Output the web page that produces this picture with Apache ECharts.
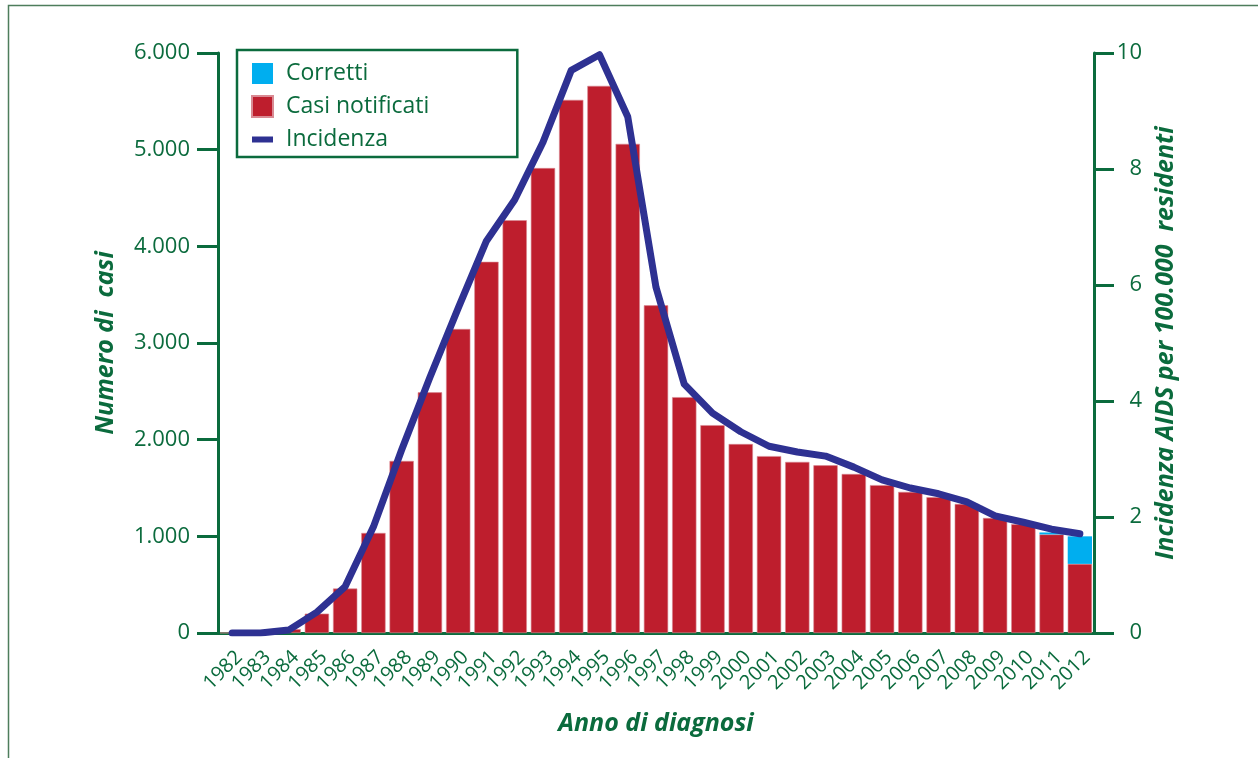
<!DOCTYPE html>
<html>
<head>
<meta charset="utf-8">
<script src="https://cdn.jsdelivr.net/npm/echarts@6/dist/echarts.min.js"></script>
<style>
  html, body { margin: 0; padding: 0; background: #fff; }
  #chart { width: 1258px; height: 758px; }
</style>
</head>
<body>
<div id="chart"></div>
<script>
const anni = ['1982', '1983', '1984', '1985', '1986', '1987', '1988', '1989', '1990', '1991',
  '1992', '1993', '1994', '1995', '1996', '1997', '1998', '1999', '2000', '2001',
  '2002', '2003', '2004', '2005', '2006', '2007', '2008', '2009', '2010', '2011', '2012'];

// casi notificati (asse sinistro)
const casiNotificati = [2, 10, 40, 200, 460, 1035, 1780, 2490, 3145, 3840,
  4270, 4810, 5515, 5660, 5060, 3390, 2440, 2150, 1955, 1830,
  1770, 1735, 1645, 1530, 1460, 1405, 1335, 1190, 1125, 1020, 715];

// correzione per ritardo di notifica
const corretti = [0, 0, 0, 0, 0, 0, 0, 0, 0, 0,
  0, 0, 0, 0, 0, 0, 0, 0, 0, 0,
  0, 0, 0, 0, 0, 0, 0, 0, 0, 20, 285];

// incidenza per 100.000 residenti (asse destro)
const incidenza = [0, 0, 0.05, 0.36, 0.8, 1.83, 3.16, 4.41, 5.6, 6.76,
  7.47, 8.46, 9.7, 9.97, 8.9, 5.96, 4.29, 3.79, 3.47, 3.22,
  3.12, 3.05, 2.86, 2.64, 2.5, 2.4, 2.26, 2.02, 1.91, 1.79, 1.71];

const verde = '#0b6b3d';
const font = '"Open Sans", "Noto Sans", sans-serif';

const chart = echarts.init(document.getElementById('chart'));

chart.setOption({
  animation: false,
  textStyle: { fontFamily: font, color: verde },
  grid: { left: 218, right: 164, top: 53, bottom: 125 },
  graphic: [{
    type: 'rect',
    shape: { x: 8.5, y: 5.5, width: 1300, height: 800 },
    style: { fill: 'none', stroke: '#4e7d5c', lineWidth: 1.5 },
    silent: true
  }],
  legend: {
    left: 237,
    top: 50,
    orient: 'vertical',
    itemGap: 10,
    itemWidth: 21,
    itemHeight: 21,
    padding: [12, 88, 6, 14],
    borderColor: verde,
    borderWidth: 2.5,
    backgroundColor: '#fff',
    textStyle: { fontSize: 23, color: verde, fontFamily: font, padding: [0, 0, 0, 8] },
    data: [
      { name: 'Corretti', icon: 'rect' },
      { name: 'Casi notificati', icon: 'rect' },
      { name: 'Incidenza', icon: 'path://M0,0 L21,0 L21,6 L0,6 Z' }
    ]
  },
  xAxis: {
    type: 'category',
    data: anni,
    name: 'Anno di diagnosi',
    nameLocation: 'middle',
    nameGap: 78,
    nameTextStyle: { fontSize: 25, fontWeight: 'bold', fontStyle: 'italic', color: verde },
    axisLine: { lineStyle: { color: verde, width: 3 } },
    axisTick: { length: 25, lineStyle: { color: verde, width: 2.5 } },
    axisLabel: {
      rotate: 45,
      interval: 0,
      fontSize: 20,
      margin: 14,
      color: verde,
      verticalAlign: 'top'
    }
  },
  yAxis: [
    {
      type: 'value',
      min: 0,
      max: 6000,
      interval: 1000,
      name: 'Numero di  casi',
      nameLocation: 'middle',
      nameRotate: 90,
      nameGap: 100,
      nameTextStyle: { fontSize: 25, fontWeight: 'bold', fontStyle: 'italic', color: verde },
      axisLine: { show: true, lineStyle: { color: verde, width: 3 } },
      axisTick: { show: true, length: 21, lineStyle: { color: verde, width: 3 } },
      axisLabel: {
        fontSize: 22,
        margin: 28,
        color: verde,
        formatter: v => String(v).replace(/\B(?=(\d{3})+(?!\d))/g, '.')
      },
      splitLine: { show: false }
    },
    {
      type: 'value',
      min: 0,
      max: 10,
      interval: 2,
      position: 'right',
      name: 'Incidenza AIDS per 100.000  residenti',
      nameLocation: 'middle',
      nameRotate: 90,
      nameGap: 58,
      nameTextStyle: { fontSize: 25, fontWeight: 'bold', fontStyle: 'italic', color: verde },
      axisLine: { show: true, lineStyle: { color: verde, width: 3 } },
      axisTick: { show: true, length: 20, lineStyle: { color: verde, width: 3 } },
      axisLabel: {
        fontSize: 22,
        margin: 23,
        color: verde,
        formatter: v => '{n|' + v + '}',
        rich: { n: { fontSize: 22, color: verde, width: 25, align: 'right' } }
      },
      splitLine: { show: false }
    }
  ],
  series: [
    {
      name: 'Casi notificati',
      type: 'bar',
      stack: 'casi',
      data: casiNotificati,
      barCategoryGap: '14%',
      itemStyle: { color: '#be1e2d', borderColor: '#d98a93', borderWidth: 0.6 }
    },
    {
      name: 'Corretti',
      type: 'bar',
      stack: 'casi',
      data: corretti,
      itemStyle: { color: '#00aeef' }
    },
    {
      name: 'Incidenza',
      type: 'line',
      yAxisIndex: 1,
      data: incidenza,
      symbol: 'none',
      z: 5,
      color: '#2e3192',
      lineStyle: { color: '#2e3192', width: 7, cap: 'round', join: 'round' }
    }
  ]
});
</script>
</body>
</html>
